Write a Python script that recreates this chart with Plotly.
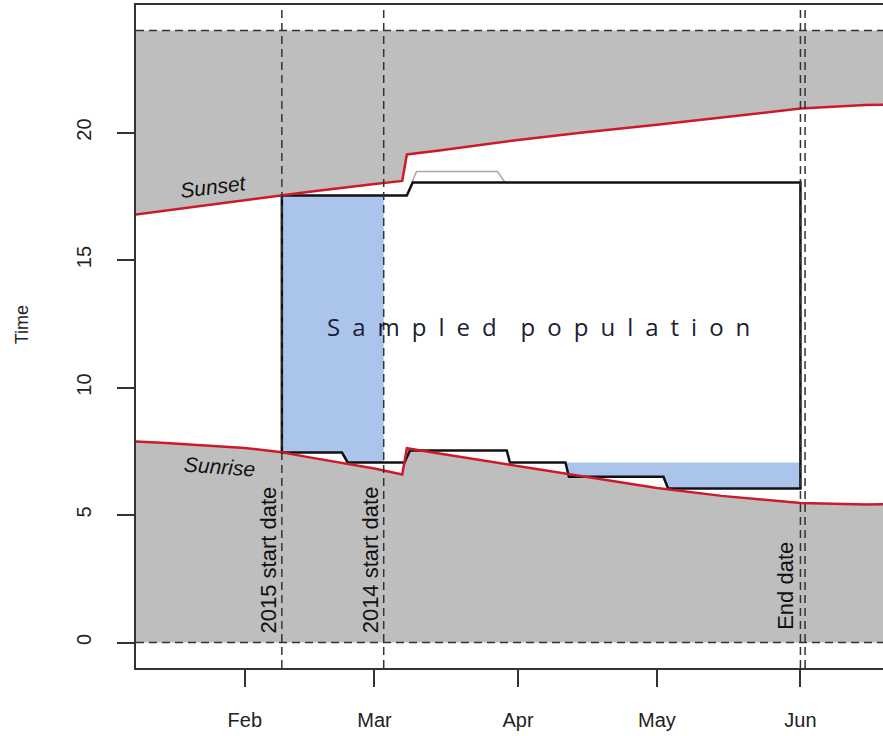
import plotly.graph_objects as go

# ---------------- data ----------------
sun_dates = ["2015-01-01", "2015-01-15", "2015-02-01", "2015-02-09", "2015-02-15",
             "2015-03-01", "2015-03-07", "2015-03-08", "2015-03-15", "2015-04-01",
             "2015-04-15", "2015-05-01", "2015-05-15", "2015-06-01", "2015-06-15",
             "2015-06-30"]
sunset = [16.60, 16.93, 17.34, 17.53, 17.68, 17.98, 18.10, 19.14, 19.29, 19.71,
          20.00, 20.30, 20.60, 20.94, 21.08, 21.12]
sunrise = [7.95, 7.82, 7.63, 7.46, 7.26, 6.82, 6.59, 7.62, 7.41, 6.92,
           6.50, 6.06, 5.75, 5.47, 5.41, 5.45]

# 2015 sampled population outline
samp_dates = ["2015-02-09", "2015-03-08 00:00", "2015-03-09 06:00", "2015-06-01",
              "2015-06-01", "2015-05-03 10:00", "2015-05-02 10:00", "2015-04-12 00:00",
              "2015-04-11 06:00", "2015-03-30 06:00", "2015-03-29 14:00", "2015-03-08 16:00",
              "2015-03-07 12:00", "2015-02-23 05:00", "2015-02-22 00:00", "2015-02-09",
              "2015-02-09"]
samp_times = [17.53, 17.53, 18.04, 18.04, 6.04, 6.04, 6.50, 6.50, 7.06, 7.06, 7.53,
              7.53, 7.06, 7.06, 7.45, 7.45, 17.53]

# blue areas (sampled in 2015 only)
blue1_dates = ["2015-02-09", "2015-03-03", "2015-03-03", "2015-02-23 05:00",
               "2015-02-22 00:00", "2015-02-09"]
blue1_times = [17.53, 17.53, 7.06, 7.06, 7.45, 7.45]
blue2_dates = ["2015-04-11 06:00", "2015-06-01", "2015-06-01", "2015-05-03 10:00",
               "2015-05-02 10:00", "2015-04-12 00:00"]
blue2_times = [7.06, 7.06, 6.04, 6.04, 6.50, 6.50]

# thin grey 2014 outline segment
grey_dates = ["2015-03-09 02:00", "2015-03-10 02:00", "2015-03-27 14:00", "2015-03-29 05:00"]
grey_times = [18.04, 18.47, 18.47, 18.04]

# reference lines
vline_dates = ["2015-02-09", "2015-03-03", "2015-06-01", "2015-06-02"]
hline_times = [0, 24]
day_min, day_max = 0, 24

tick_dates = ["2015-02-01", "2015-03-01", "2015-04-01", "2015-05-01", "2015-06-01"]
tick_labels = ["Feb", "Mar", "Apr", "May", "Jun"]
ytick_vals = [0, 5, 10, 15, 20]

GREY = "#bebebe"
BLUE = "#aac4ec"
RED = "#cc1a2b"
FONT = "Liberation Sans, Arial, sans-serif"

fig = go.Figure()

# night (grey) areas
fig.add_trace(go.Scatter(
    x=sun_dates + sun_dates[::-1],
    y=sunset + [day_max] * len(sun_dates),
    fill="toself", fillcolor=GREY, line=dict(width=0), mode="lines",
    hoverinfo="skip", showlegend=False))
fig.add_trace(go.Scatter(
    x=sun_dates + sun_dates[::-1],
    y=sunrise + [day_min] * len(sun_dates),
    fill="toself", fillcolor=GREY, line=dict(width=0), mode="lines",
    hoverinfo="skip", showlegend=False))

# blue areas
for xs, ys in [(blue1_dates, blue1_times), (blue2_dates, blue2_times)]:
    fig.add_trace(go.Scatter(x=xs, y=ys, fill="toself", fillcolor=BLUE,
                             line=dict(width=0), mode="lines",
                             hoverinfo="skip", showlegend=False))

# thin grey outline
fig.add_trace(go.Scatter(x=grey_dates, y=grey_times, mode="lines",
                         line=dict(color="#a8a8a8", width=1.5),
                         showlegend=False))

# sampled population outline
fig.add_trace(go.Scatter(x=samp_dates, y=samp_times, mode="lines",
                         line=dict(color="#111111", width=2.5),
                         showlegend=False))

# sunrise / sunset lines
fig.add_trace(go.Scatter(x=sun_dates, y=sunset, mode="lines",
                         line=dict(color=RED, width=2.5), showlegend=False))
fig.add_trace(go.Scatter(x=sun_dates, y=sunrise, mode="lines",
                         line=dict(color=RED, width=2.5), showlegend=False))

shapes = []
for d in vline_dates:
    shapes.append(dict(type="line", xref="x", yref="paper", x0=d, x1=d, y0=0, y1=1,
                       line=dict(color="#333333", width=1.5, dash="8px,5px"),
                       layer="above"))
for h in hline_times:
    shapes.append(dict(type="line", xref="paper", yref="y", x0=0, x1=1, y0=h, y1=h,
                       line=dict(color="#333333", width=1.5, dash="8px,5px"),
                       layer="above"))

ES = "\u2002"
title_txt = ES.join("Sampled") + ES + ES + ES.join("population")

annotations = [
    dict(x="2015-04-05 09:00", y=12.4, xref="x", yref="y",
         text=title_txt, showarrow=False,
         font=dict(family="Open Sans, Noto Sans, sans-serif", size=24, color="#1b2033")),
    dict(x="2015-01-25 08:00", y=17.88, xref="x", yref="y", text="<i>Sunset</i>",
         showarrow=False, textangle=-7, font=dict(family=FONT, size=21, color="#111111")),
    dict(x="2015-01-26 14:00", y=6.9, xref="x", yref="y", text="<i>Sunrise</i>",
         showarrow=False, textangle=4, font=dict(family=FONT, size=21, color="#111111")),
    dict(x=vline_dates[0], y=3.25, xref="x", yref="y", text="2015 start date",
         showarrow=False, textangle=-90, xshift=-13,
         font=dict(family=FONT, size=22, color="#111111")),
    dict(x=vline_dates[1], y=3.25, xref="x", yref="y", text="2014 start date",
         showarrow=False, textangle=-90, xshift=-13,
         font=dict(family=FONT, size=22, color="#111111")),
    dict(x=vline_dates[2], y=2.24, xref="x", yref="y", text="End date",
         showarrow=False, textangle=-90, xshift=-15,
         font=dict(family=FONT, size=22, color="#111111")),
    dict(x=-0.1526, y=0.517, xref="paper", yref="paper", text="Time",
         xanchor="center", yanchor="middle",
         showarrow=False, textangle=-90,
         font=dict(family=FONT, size=18, color="#222222")),
]

fig.update_layout(
    width=883, height=736,
    margin=dict(l=136, r=0, t=5, b=68),
    paper_bgcolor="white", plot_bgcolor="white",
    shapes=shapes, annotations=annotations,
    showlegend=False,
    font=dict(family=FONT, size=18, color="#222222"),
)
fig.update_xaxes(
    type="date", range=["2015-01-08 12:00", "2015-06-18 20:00"],
    tickvals=tick_dates, ticktext=tick_labels,
    ticks="outside", ticklen=17, tickwidth=1.5, tickcolor="#333333",
    showline=True, linecolor="#333333", linewidth=1.5, mirror=True,
    showgrid=False, zeroline=False, ticklabelstandoff=16,
    tickfont=dict(family=FONT, size=20, color="#222222"),
)
fig.update_yaxes(
    range=[-1.0, 25.0], tickvals=ytick_vals,
    ticks="outside", ticklen=17, tickwidth=1.5, tickcolor="#333333",
    showline=True, linecolor="#333333", linewidth=1.5, mirror=False,
    showgrid=False, zeroline=False, tickangle=-90, ticklabelstandoff=18,
    tickfont=dict(family=FONT, size=20, color="#222222"),
)

fig.write_html("out.html",
               config={"displayModeBar": False},
               post_script="document.body.style.margin='0px';document.body.style.padding='0px';")
